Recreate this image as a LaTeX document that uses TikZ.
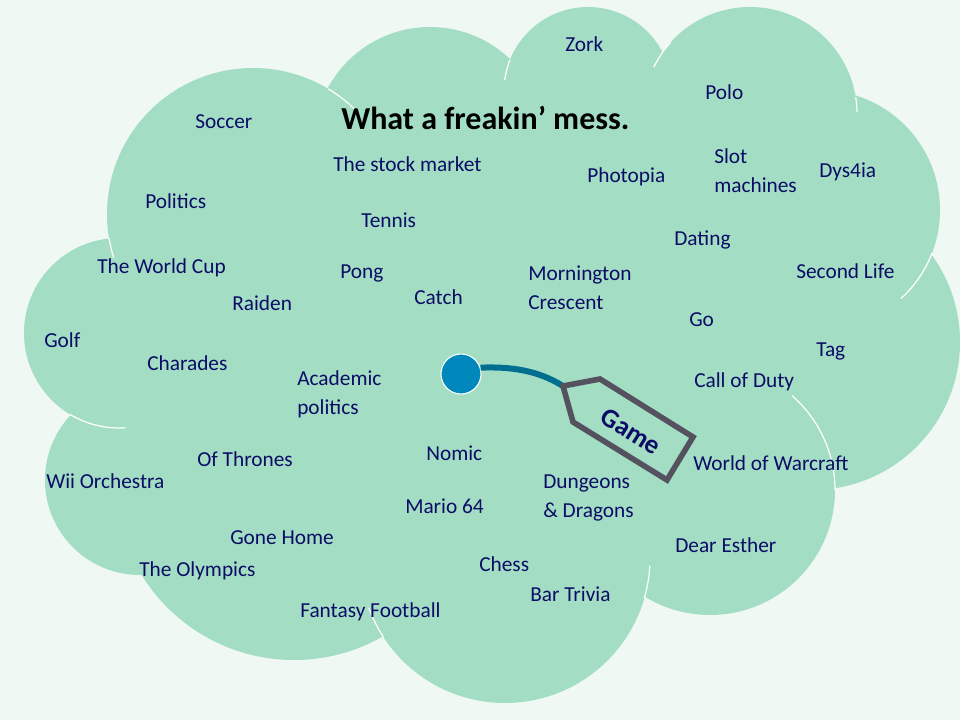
\documentclass[tikz,border=0pt]{standalone}
\usepackage{fontspec}
\setmainfont{Carlito}
\definecolor{bg}{HTML}{EFF8F3}
\definecolor{cloud}{HTML}{A3DEC4}
\definecolor{ink}{RGB}{12,12,102}
\definecolor{dotblue}{HTML}{0088BC}
\definecolor{wire}{HTML}{006E8F}
\definecolor{taggray}{HTML}{54525E}
\begin{document}
\begin{tikzpicture}[x=0.75pt,y=-0.75pt,
  lbl/.style={anchor=west, inner sep=0pt, text=ink, font=\fontsize{16}{21.75}\selectfont, align=left},
  seam/.style={draw=white, line width=0.9pt},
  puff/.style={fill=cloud}
]
\useasboundingbox (0,0) rectangle (960,720);
\fill[bg] (0,0) rectangle (960,720);

% cloud body
\fill[puff] (253,214) -- (430,143) -- (588,91) -- (750,114) -- (820,210) -- (812,342)
  -- (710,490) -- (505,558) -- (294,481) -- (140,480) -- (119,333) -- cycle;
\fill[puff] (253,214) circle[radius=146];
\fill[puff] (430,143) circle[radius=116];
\fill[puff] (588,91) circle[radius=84];
\fill[puff] (750,114) circle[radius=107];
\fill[puff] (820,210) circle[radius=120];
\fill[puff] (812,342) circle[radius=148];
\fill[puff] (710,490) circle[radius=125];
\fill[puff] (505,558) circle[radius=145];
\fill[puff] (294,481) circle[radius=179];
\fill[puff] (140,480) circle[radius=95];
\fill[puff] (119,333) circle[radius=95];

% white seams
\draw[seam] (253,214) ++(-59:146) arc[start angle=-59, end angle=-45, radius=146];
\draw[seam] (253,214) ++(162.6:146) arc[start angle=162.6, end angle=170.6, radius=146];
\draw[seam] (588,91) ++(187.5:84) arc[start angle=187.5, end angle=201.7, radius=84];
\draw[seam] (750,114) ++(206:107) arc[start angle=206, end angle=222, radius=107];
\draw[seam] (750,114) ++(-9:107) arc[start angle=-9, end angle=-1, radius=107];
\draw[seam] (820,210) ++(21:120) arc[start angle=21, end angle=47.5, radius=120];
\draw[seam] (710,490) ++(-49:125) arc[start angle=-49, end angle=0, radius=125];
\draw[seam] (505,558) ++(147:145) arc[start angle=147, end angle=160, radius=145];
\draw[seam] (505,558) ++(3:145) arc[start angle=3, end angle=16, radius=145];
\draw[seam] (119,333) ++(86:95) arc[start angle=86, end angle=121, radius=95];

% title
\node[anchor=west, inner sep=0pt, font=\bfseries\fontsize{24}{28}\selectfont, text=black] (title) at (341,118) {What a freakin’ mess.};

% labels
\node[lbl] (soccer) at (195,122) {Soccer};
\node[lbl] (zork) at (565,44) {Zork};
\node[lbl] (polo) at (705,92) {Polo};
\node[lbl] (stock) at (333,164) {The stock market};
\node[lbl] (photopia) at (587,177) {Photopia};
\node[lbl] (slot) at (714,171) {Slot\\machines};
\node[lbl] (dys) at (819,172) {Dys4ia};
\node[lbl] (politics) at (145,201) {Politics};
\node[lbl] (tennis) at (361,220) {Tennis};
\node[lbl] (dating) at (674,240) {Dating};
\node[lbl] (worldcup) at (97,268) {The World Cup};
\node[lbl] (pong) at (340,273) {Pong};
\node[lbl] (second) at (796,271) {Second Life};
\node[lbl] (catch) at (414,297) {Catch};
\node[lbl] (raiden) at (232,303) {Raiden};
\node[lbl] (morn) at (528,288) {Mornington\\Crescent};
\node[lbl] (golf) at (44,340) {Golf};
\node[lbl] (go) at (689,320) {Go};
\node[lbl] (tag) at (816,351) {Tag};
\node[lbl] (charades) at (147,363) {Charades};
\node[lbl] (academic) at (297,394) {Academic\\politics};
\node[lbl] (cod) at (694,382) {Call of Duty};
\node[lbl] (nomic) at (426,453) {Nomic};
\node[lbl] (thrones) at (197,459) {Of Thrones};
\node[lbl] (wow) at (693,463) {World of Warcraft};
\node[lbl] (wii) at (46,481) {Wii Orchestra};
\node[lbl] (dnd) at (543,498) {Dungeons\\\& Dragons};
\node[lbl] (mario) at (405,506) {Mario 64};
\node[lbl] (gone) at (230,538) {Gone Home};
\node[lbl] (esther) at (675,545) {Dear Esther};
\node[lbl] (chess) at (479,564) {Chess};
\node[lbl] (olympics) at (139,571) {The Olympics};
\node[lbl] (bar) at (530,594) {Bar Trivia};
\node[lbl] (fantasy) at (300,612) {Fantasy Football};

% tag with string
\node[circle, fill=dotblue, draw=white, line width=0.8pt, minimum size=30pt, inner sep=0pt] (dot) at (461,374) {};
\coordinate (tagtip) at (563,386);
\draw[wire, line width=4.5pt] (dot.18) .. controls (522,366) and (545,375) .. (tagtip);
\draw[taggray, line width=4.2pt, line join=miter] (tagtip) -- (600,379) -- (693,437) -- (667,480) -- (573,422) -- cycle;
\node[rotate=-32, inner sep=0pt, font=\bfseries\fontsize{20}{24}\selectfont, text=ink] (game) at (631,431) {Game};
\end{tikzpicture}
\end{document}
